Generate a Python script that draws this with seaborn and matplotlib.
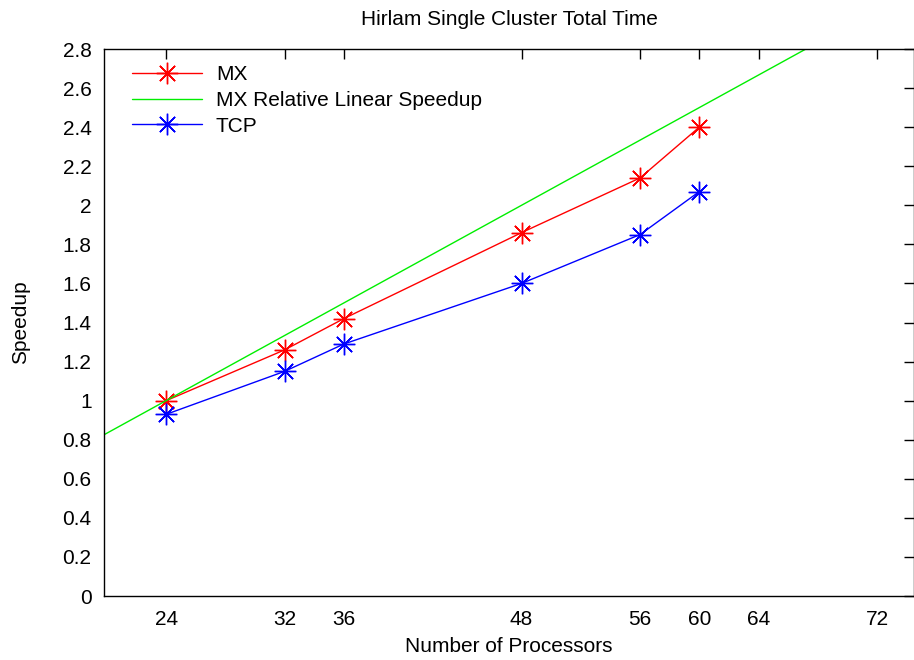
import matplotlib
matplotlib.use('Agg')
import matplotlib.pyplot as plt
import seaborn as sns
from matplotlib.ticker import FuncFormatter

# Data
processors = [24, 32, 36, 48, 56, 60]
mx_speedup = [1.00, 1.26, 1.42, 1.86, 2.14, 2.40]
tcp_speedup = [0.93, 1.15, 1.29, 1.60, 1.85, 2.07]
linear_procs = [16, 72]
linear_speedup = [0.667, 3.0]
x_ticks = [24, 32, 36, 48, 56, 60, 64, 72]
y_ticks = [0, 0.2, 0.4, 0.6, 0.8, 1, 1.2, 1.4, 1.6, 1.8, 2, 2.2, 2.4, 2.6, 2.8]

sns.set_style('white')
plt.rcParams['font.family'] = ['Liberation Sans', 'DejaVu Sans']
plt.rcParams['text.color'] = 'black'

fig = plt.figure(figsize=(9.14, 6.6), dpi=100)
ax = fig.add_axes([104 / 914, 64 / 660, 810 / 914, 547 / 660])

star = (8, 2, 0)
sns.lineplot(x=processors, y=mx_speedup, ax=ax, color='#ff0000', lw=1.0,
             marker=star, markersize=15.5, markeredgewidth=1.0,
             markeredgecolor='#ff0000', label='MX')
sns.lineplot(x=linear_procs, y=linear_speedup, ax=ax, color='#00ee00', lw=1.0,
             label='MX Relative Linear Speedup')
sns.lineplot(x=processors, y=tcp_speedup, ax=ax, color='#0000ff', lw=1.0,
             marker=star, markersize=15.5, markeredgewidth=1.0,
             markeredgecolor='#0000ff', label='TCP')

ax.set_xlim(19.8, 74.5)
ax.set_ylim(0, 2.8)
ax.set_xticks(x_ticks)
ax.set_yticks(y_ticks)
ax.yaxis.set_major_formatter(FuncFormatter(lambda v, p: '%g' % round(v, 2)))
ax.tick_params(axis='both', direction='in', length=7, width=1, labelsize=15,
               top=True, right=True, colors='black', labelcolor='black')
ax.tick_params(axis='y', pad=9)
ax.tick_params(axis='x', pad=10)
for s in ax.spines.values():
    s.set_color('black')
    s.set_linewidth(1.0)

ax.set_title('Hirlam Single Cluster Total Time', fontsize=15, pad=17,
             color='black')
ax.set_xlabel('Number of Processors', fontsize=15, labelpad=6, color='black')
ax.set_ylabel('Speedup', fontsize=15, labelpad=23, color='black')

leg = ax.legend(loc='upper left', bbox_to_anchor=(0.016, 0.997), frameon=False,
                fontsize=15, handlelength=3.4, handletextpad=0.65,
                labelspacing=0.32, borderaxespad=0.3)
for t in leg.get_texts():
    t.set_color('black')

fig.savefig('out.png', dpi=100)
